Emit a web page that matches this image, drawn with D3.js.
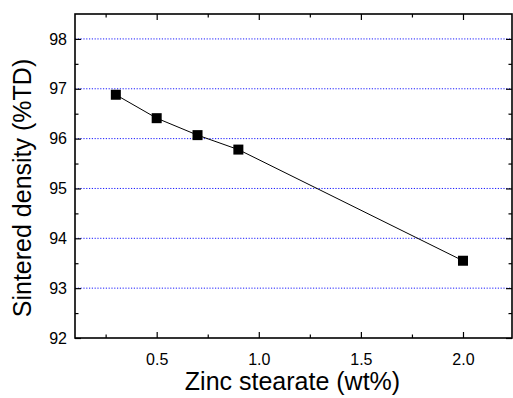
<!DOCTYPE html>
<html>
<head>
<meta charset="utf-8">
<script src="https://cdn.jsdelivr.net/npm/d3@7"></script>
<style>
  body { margin: 0; background: #fff; }
  text { font-family: Arial, "Liberation Sans", sans-serif; fill: #000; }
</style>
</head>
<body>
<svg id="chart" width="513" height="398"></svg>
<script>
const zincStearate = [0.3, 0.5, 0.7, 0.9, 2.0];
const sinteredDensity = [96.88, 96.41, 96.07, 95.78, 93.55];
const xTicks = [0.5, 1.0, 1.5, 2.0];
const yTicks = [92, 93, 94, 95, 96, 97, 98];
const xLabel = "Zinc stearate (wt%)";
const yLabel = "Sintered density (%TD)";

const margin = {top: 14, right: 1, bottom: 60, left: 75};
const width = 513 - margin.left - margin.right;
const height = 398 - margin.top - margin.bottom;

const svg = d3.select("#chart")
  .append("g")
  .attr("transform", "translate(" + margin.left + "," + margin.top + ")");

const x = d3.scaleLinear().domain([0.1, 2.24]).range([0, width]);
const y = d3.scaleLinear().domain([92, 98.5]).range([height, 0]);

// dotted grid lines
svg.selectAll(".grid")
  .data(yTicks.filter(d => d > 92))
  .enter()
  .append("line")
  .attr("x1", 0)
  .attr("x2", width)
  .attr("y1", d => y(d))
  .attr("y2", d => y(d))
  .attr("stroke", "#1a1aff")
  .attr("stroke-width", 1)
  .attr("stroke-dasharray", "1.2,1.6");

const xMinor = d3.range(0.25, 2.24, 0.25);
const yMinor = d3.range(92.5, 98.5, 1);

function styleAxis(g) {
  g.select(".domain").remove();
  g.selectAll("line").attr("stroke", "#000").attr("stroke-width", 1.2);
  g.selectAll("text").style("font-size", "16px");
}

// bottom axis
svg.append("g")
  .attr("transform", "translate(0," + height + ")")
  .call(d3.axisBottom(x).tickValues(xTicks).tickFormat(d3.format(".1f")).tickSizeInner(-6).tickPadding(16))
  .call(styleAxis);
svg.append("g")
  .attr("transform", "translate(0," + height + ")")
  .call(d3.axisBottom(x).tickValues(xMinor.filter(d => !xTicks.includes(d))).tickFormat("").tickSizeInner(-3.5))
  .call(styleAxis);

// top axis (mirror)
svg.append("g")
  .call(d3.axisTop(x).tickValues(xTicks).tickFormat("").tickSizeInner(-6))
  .call(styleAxis);
svg.append("g")
  .call(d3.axisTop(x).tickValues(xMinor.filter(d => !xTicks.includes(d))).tickFormat("").tickSizeInner(-3.5))
  .call(styleAxis);

// left axis
svg.append("g")
  .call(d3.axisLeft(y).tickValues(yTicks).tickFormat(d3.format("d")).tickSizeInner(-6).tickPadding(8))
  .call(styleAxis);
svg.append("g")
  .call(d3.axisLeft(y).tickValues(yMinor).tickFormat("").tickSizeInner(-3.5))
  .call(styleAxis);

// right axis (mirror)
svg.append("g")
  .attr("transform", "translate(" + width + ",0)")
  .call(d3.axisRight(y).tickValues(yTicks).tickFormat("").tickSizeInner(-6))
  .call(styleAxis);
svg.append("g")
  .attr("transform", "translate(" + width + ",0)")
  .call(d3.axisRight(y).tickValues(yMinor).tickFormat("").tickSizeInner(-3.5))
  .call(styleAxis);

// frame
svg.append("rect")
  .attr("x", 0).attr("y", 0)
  .attr("width", width).attr("height", height)
  .attr("fill", "none")
  .attr("stroke", "#000")
  .attr("stroke-width", 1.6);

// data line
const points = zincStearate.map((d, i) => [d, sinteredDensity[i]]);
svg.append("path")
  .datum(points)
  .attr("fill", "none")
  .attr("stroke", "#000")
  .attr("stroke-width", 1)
  .attr("d", d3.line().x(d => x(d[0])).y(d => y(d[1])));

// markers
const s = 10;
svg.selectAll(".marker")
  .data(points)
  .enter()
  .append("rect")
  .attr("x", d => x(d[0]) - s / 2)
  .attr("y", d => y(d[1]) - s / 2)
  .attr("width", s)
  .attr("height", s)
  .attr("fill", "#000");

// axis titles
svg.append("text")
  .attr("x", width / 2 - 1)
  .attr("y", height + 52)
  .attr("text-anchor", "middle")
  .style("font-size", "25px")
  .text(xLabel);

svg.append("text")
  .attr("transform", "translate(-44," + (height / 2 + 12) + ")rotate(-90)")
  .attr("text-anchor", "middle")
  .style("font-size", "25px")
  .text(yLabel);
</script>
</body>
</html>
